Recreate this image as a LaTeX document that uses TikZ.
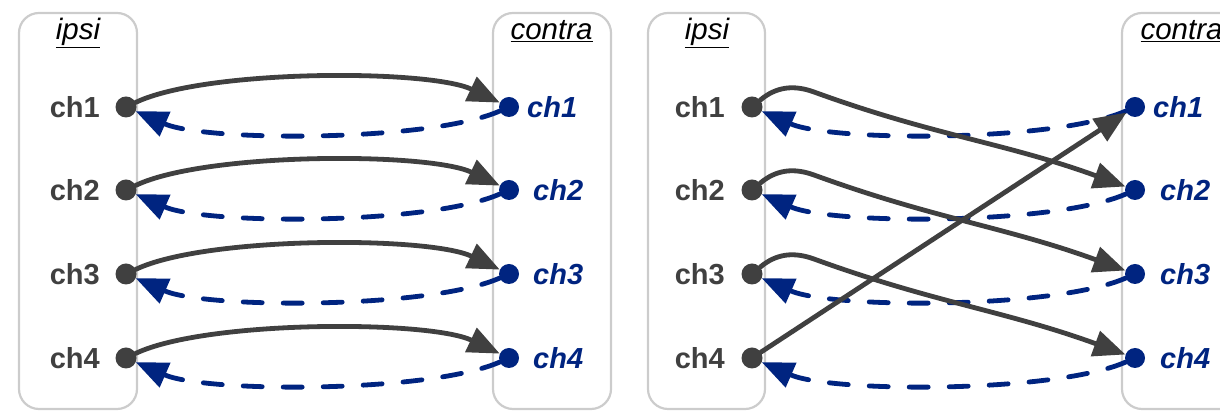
\documentclass[tikz,border=0pt]{standalone}
\usepackage{fontspec}
\setmainfont{Liberation Sans}
\usetikzlibrary{arrows.meta,calc}
\definecolor{dk}{HTML}{404040}
\definecolor{nv}{RGB}{0,36,128}
\definecolor{bx}{HTML}{CCCCCC}
\begin{document}
\begin{tikzpicture}[x=1pt,y=1pt,
 panel/.style={draw=bx,line width=2.2pt,rounded corners=20pt},
 idot/.style={circle,fill=dk,inner sep=0pt,minimum size=21pt},
 cdot/.style={circle,fill=nv,inner sep=0pt,minimum size=20pt},
 ilab/.style={font=\fontsize{29}{30}\selectfont\bfseries,text=dk,anchor=east,inner sep=0pt},
 clab/.style={font=\fontsize{29}{30}\selectfont\bfseries\itshape,text=nv,anchor=west,inner sep=0pt},
 ttl/.style={font=\fontsize{29.5}{30}\selectfont\itshape,anchor=base,inner sep=0pt},
 fwd/.style={draw=dk,line width=4.8pt,line cap=round,-{Triangle[length=32pt,width=26pt]}},
 bwd/.style={draw=nv,line width=4.8pt,dash pattern=on 19pt off 21pt,line cap=round,-{Triangle[length=32pt,width=26pt]}},
]
\useasboundingbox (0,0) rectangle (1220,411);
\clip (0,0) rectangle (1220,411);
% panels
\draw[panel] (19,2) rectangle (137,398);
\draw[panel] (493,2) rectangle (611,398);
\draw[panel] (648,2) rectangle (765,398);
\draw[panel] (1122,2) rectangle (1260,398);
% titles
\node[ttl] (t1) at (78,371) {\underline{ipsi}};
\node[ttl] (t2) at (551.5,371) {\underline{contra}};
\node[ttl] (t3) at (707,371) {\underline{ipsi}};
\node[ttl] (t4) at (1181.5,371) {\underline{contra}};
% dots and labels
\foreach \i/\y in {1/304,2/221,3/137,4/53}{
  \node[idot] (iL\i) at (126,\y) {};
  \node[cdot] (cL\i) at (509,\y) {};
  \node[idot] (iR\i) at (752,\y) {};
  \node[cdot] (cR\i) at (1135,\y) {};
  \node[ilab] (liL\i) at (100,\y) {ch\i};
  \node[ilab] (liR\i) at (725,\y) {ch\i};
}
\node[clab] (lcL1) at (527,304) {ch1};
\node[clab] (lcL2) at (533,221) {ch2};
\node[clab] (lcL3) at (533,137) {ch3};
\node[clab] (lcL4) at (533,53) {ch4};
\node[clab] (lcR1) at (1153,304) {ch1};
\node[clab] (lcR2) at (1160,221) {ch2};
\node[clab] (lcR3) at (1160,137) {ch3};
\node[clab] (lcR4) at (1160,53) {ch4};
% left panel connectors
\foreach \i in {1,2,3,4}{
  \draw[fwd] (iL\i) .. controls +(80,38) and +(-80,38) .. (cL\i);
  \draw[bwd] (cL\i) .. controls +(-80,-35) and +(80,-35) .. (iL\i);
  \draw[bwd] (cR\i) .. controls +(-80,-35) and +(80,-35) .. (iR\i);
}
% right panel connectors
\foreach \i/\j in {1/2,2/3,3/4}{
  \coordinate (p\i) at ($(iR\i)+(62,15)$);
  \draw[fwd] (iR\i) to[out=40,in=160] (p\i) to[out=-20,in=160] (cR\j);
}
\draw[fwd] (iR4) -- (cR1);
\end{tikzpicture}
\end{document}
